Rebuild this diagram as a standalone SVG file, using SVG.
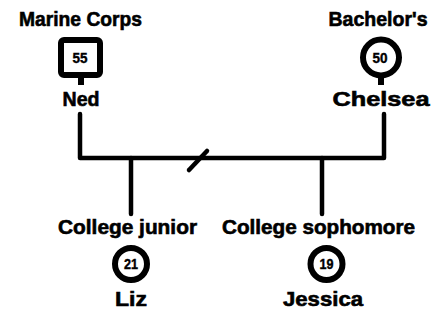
<svg xmlns="http://www.w3.org/2000/svg" width="436" height="322" viewBox="0 0 436 322">
<style>
.lbl{font-family:"Liberation Sans",Arial,sans-serif;font-weight:bold;font-size:20px;fill:#000;stroke:#000;stroke-width:0.6;text-anchor:middle}
.num{font-family:"Liberation Sans",Arial,sans-serif;font-weight:bold;font-size:14px;fill:#000;stroke:#000;stroke-width:0.4;text-anchor:middle}
.sym{fill:#fff;stroke:#000;stroke-width:6}
.ln{fill:none;stroke:#000;stroke-width:4.5;stroke-linecap:round;stroke-linejoin:round}
.pin{fill:none;stroke:#000;stroke-width:6}
</style>
<rect width="436" height="322" fill="#fff"/>
<g id="connectors">
<path class="ln" d="M80 114 V158 H384 V114"/>
<path class="ln" d="M131 158 V214"/>
<path class="ln" d="M322 158 V214"/>
<path class="ln" d="M189 170 L207 151"/>
</g>
<g id="ned">
<text class="lbl" x="80.5" y="25.5" textLength="123" lengthAdjust="spacingAndGlyphs">Marine Corps</text>
<path class="pin" d="M81 76 V85"/>
<rect class="sym" x="61" y="40" width="39" height="35" rx="3"/>
<text class="num" x="80" y="63" textLength="15" lengthAdjust="spacingAndGlyphs">55</text>
<text class="lbl" x="81" y="105.5" textLength="37" lengthAdjust="spacingAndGlyphs">Ned</text>
</g>
<g id="chelsea">
<text class="lbl" x="378" y="26" textLength="99" lengthAdjust="spacingAndGlyphs">Bachelor's</text>
<path class="pin" d="M381 74 V85"/>
<circle class="sym" cx="381" cy="57.5" r="18"/>
<text class="num" x="380" y="63" textLength="15" lengthAdjust="spacingAndGlyphs">50</text>
<text class="lbl" x="381" y="105.5" textLength="97" lengthAdjust="spacingAndGlyphs">Chelsea</text>
</g>
<g id="liz">
<text class="lbl" x="127.5" y="233.5" textLength="139" lengthAdjust="spacingAndGlyphs">College junior</text>
<circle class="sym" cx="131" cy="264" r="16"/>
<text class="num" x="131" y="269" textLength="14" lengthAdjust="spacingAndGlyphs">21</text>
<text class="lbl" x="131" y="306" textLength="32" lengthAdjust="spacingAndGlyphs">Liz</text>
</g>
<g id="jessica">
<text class="lbl" x="318.5" y="233.5" textLength="193" lengthAdjust="spacingAndGlyphs">College sophomore</text>
<circle class="sym" cx="326.5" cy="264" r="16"/>
<text class="num" x="326.5" y="269" textLength="14" lengthAdjust="spacingAndGlyphs">19</text>
<text class="lbl" x="323" y="306" textLength="80" lengthAdjust="spacingAndGlyphs">Jessica</text>
</g>
</svg>
